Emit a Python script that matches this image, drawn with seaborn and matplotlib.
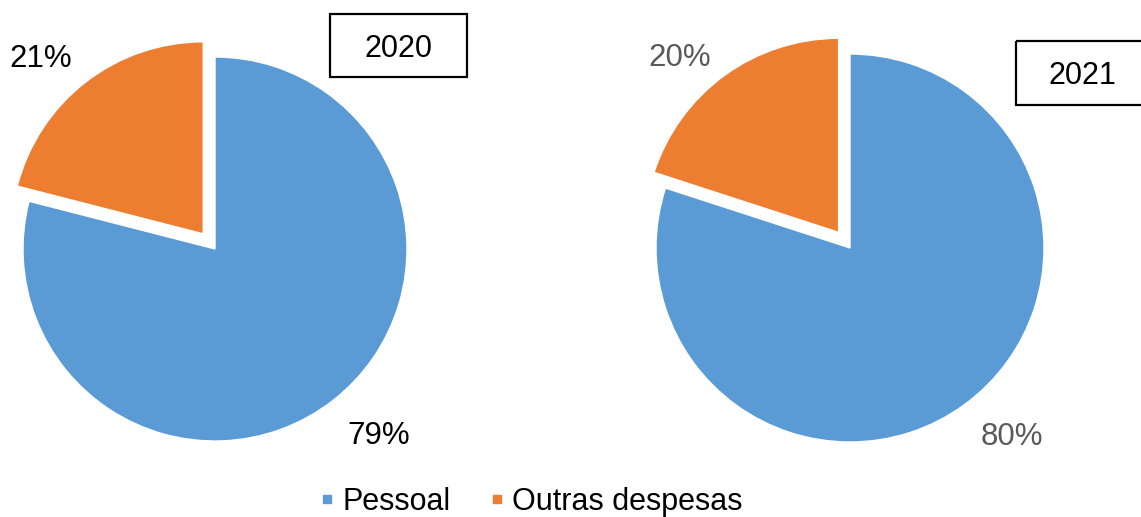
import numpy as np
import matplotlib.pyplot as plt
import seaborn as sns
from matplotlib.lines import Line2D
from matplotlib.patches import Rectangle

categories = ['Pessoal', 'Outras despesas']
years = ['2020', '2021']
shares_2020 = [79, 21]
shares_2021 = [80, 20]
label_colors = {'2020': '#000000', '2021': '#595959'}

sns.set_theme(style='white')
plt.rcParams['font.family'] = ['Liberation Sans', 'DejaVu Sans']
plt.rcParams['text.color'] = 'black'
colors = ['#5B9BD5', '#ED7D31']

W, H = 1141, 517
fig = plt.figure(figsize=(W / 100, H / 100), dpi=100)

# centro e raio de cada pizza em pixels, posição relativa dos rótulos
pies = [
    (shares_2020, '2020', (215, 249), 192, [(0.855, -0.955), (-0.91, 1.01)]),
    (shares_2021, '2021', (850, 248), 194, [(0.835, -0.955), (-0.88, 1.0)]),
]

for vals, year, (cx, cy), r, lab_pos in pies:
    ax = fig.add_axes([(cx - r) / W, (H - cy - r) / H, 2 * r / W, 2 * r / H])
    wedges, _ = ax.pie(vals, colors=colors, startangle=90, counterclock=False,
                       explode=[0, 0.10], radius=1,
                       wedgeprops=dict(edgecolor='white', linewidth=1))
    for w in wedges:
        w.set_clip_on(False)
    ax.set_xlim(-1, 1)
    ax.set_ylim(-1, 1)
    ax.set_aspect('equal')
    ax.axis('off')
    # rótulos de percentual
    for v, (lx, ly) in zip(vals, lab_pos):
        ax.text(lx, ly, f'{v}%', ha='center', va='center_baseline', fontsize=22.5,
                color=label_colors[year], clip_on=False)

# caixas com o ano
over = fig.add_axes([0, 0, 1, 1])
over.set_xlim(0, W)
over.set_ylim(H, 0)
over.axis('off')
over.patch.set_alpha(0)
boxes = [(330, 14, 467, 77, 398), (1016, 41, 1150, 105, 1082)]
for year, (x0, y0, x1, y1, tx) in zip(years, boxes):
    over.add_patch(Rectangle((x0, y0), x1 - x0, y1 - y0, fill=False,
                             edgecolor='black', linewidth=1.6, clip_on=False))
    over.text(tx, (y0 + y1) / 2, year, ha='center', va='center_baseline',
              fontsize=22, color='black')

handles = [Line2D([], [], marker='s', linestyle='none', markersize=6,
                  markerfacecolor=c, markeredgecolor=c) for c in colors]
fig.legend(handles, categories, loc='center', bbox_to_anchor=(528 / W, 1 - 502 / H),
           ncol=2, frameon=False, fontsize=22, handletextpad=0.05,
           columnspacing=1.05, handlelength=0.9, borderpad=0, labelcolor='black')

fig.savefig('out.png', dpi=100)
